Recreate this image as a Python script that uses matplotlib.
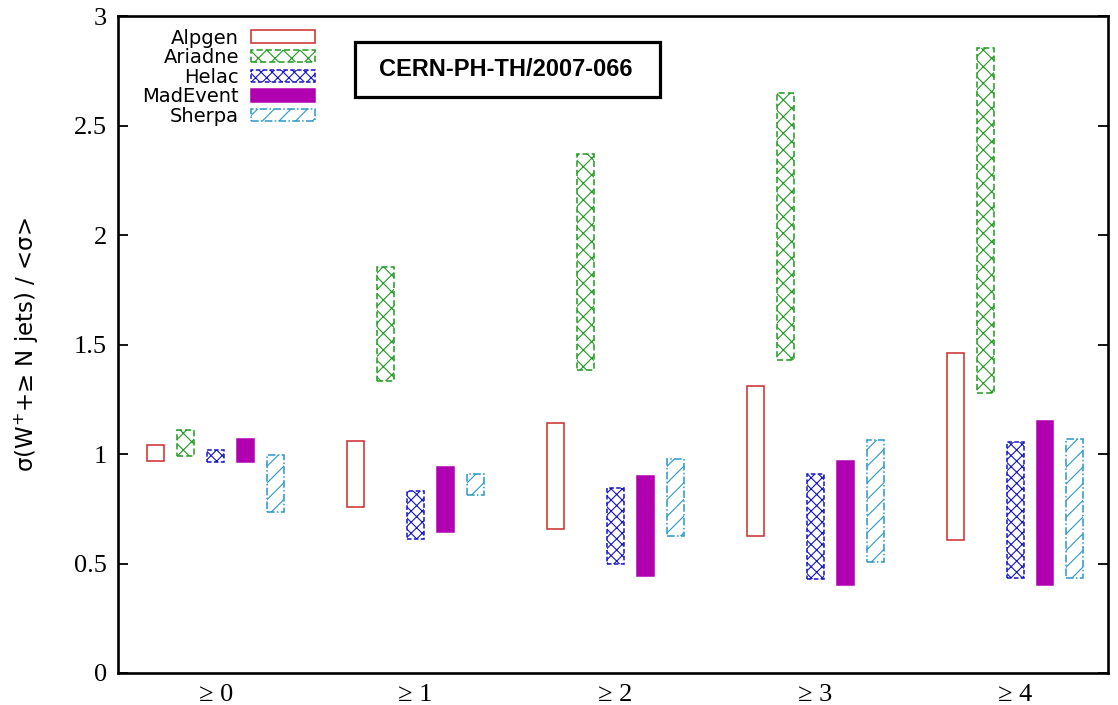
import numpy as np
import matplotlib
matplotlib.use("Agg")
import matplotlib.pyplot as plt
from matplotlib.patches import Rectangle

# ── data: min / max of sigma(W+ + >=N jets)/<sigma> per generator ─────────────
categories = ["≥ 0", "≥ 1", "≥ 2", "≥ 3", "≥ 4"]
generators = ["Alpgen", "Ariadne", "Helac", "MadEvent", "Sherpa"]

alpgen_lo = [0.970, 0.756, 0.658, 0.628, 0.609]
alpgen_hi = [1.043, 1.061, 1.142, 1.309, 1.462]
ariadne_lo = [0.992, 1.335, 1.385, 1.431, 1.279]
ariadne_hi = [1.108, 1.853, 2.369, 2.647, 2.856]
helac_lo = [0.963, 0.614, 0.497, 0.430, 0.434]
helac_hi = [1.020, 0.832, 0.847, 0.908, 1.054]
madevent_lo = [0.963, 0.643, 0.444, 0.402, 0.402]
madevent_hi = [1.069, 0.939, 0.898, 0.968, 1.151]
sherpa_lo = [0.735, 0.814, 0.626, 0.509, 0.434]
sherpa_hi = [0.997, 0.908, 0.977, 1.065, 1.069]

lows = [alpgen_lo, ariadne_lo, helac_lo, madevent_lo, sherpa_lo]
highs = [alpgen_hi, ariadne_hi, helac_hi, madevent_hi, sherpa_hi]

# ── styles (gnuplot-ish) ──────────────────────────────────────────────────────
styles = [
    dict(facecolor="none", edgecolor="#cc2a2a", hatch=None, linestyle="-"),
    dict(facecolor="none", edgecolor="#1f9a1f", hatch="xx", linestyle=(0, (4, 2))),
    dict(facecolor="none", edgecolor="#1414c8", hatch="xxx", linestyle=(0, (3, 1.5))),
    dict(facecolor="#b000b0", edgecolor="#b000b0", hatch=None, linestyle="-"),
    dict(facecolor="none", edgecolor="#2a97c8", hatch="//", linestyle=(0, (5, 1.5, 1, 1.5))),
]

plt.rcParams["hatch.linewidth"] = 0.8
plt.rcParams["mathtext.fontset"] = "custom"
plt.rcParams["mathtext.rm"] = "DejaVu Sans"

fig = plt.figure(figsize=(11.18, 7.05), dpi=100)
ax = fig.add_axes([0.1055, 0.0454, 0.8855, 0.9316])

x = np.arange(len(categories))
width = 0.085
step = 0.15
handles = []
for i, (name, lo, hi, st) in enumerate(zip(generators, lows, highs, styles)):
    lo = np.array(lo)
    hi = np.array(hi)
    b = ax.bar(x + (i - 2) * step, hi - lo, bottom=lo, width=width,
               linewidth=1.1, label=name, zorder=2, **st)
    handles.append(b)

ax.set_xlim(-0.49, 4.465)
ax.set_ylim(0, 3)
ax.set_yticks(np.arange(0, 3.01, 0.5))
ax.set_yticklabels(["0", "0.5", "1", "1.5", "2", "2.5", "3"],
                   family="Liberation Serif", fontsize=19)
ax.set_xticks(x)
ax.set_xticklabels(categories, family="Liberation Serif", fontsize=19)
ax.tick_params(axis="y", direction="in", length=7, width=1.3, right=True, pad=8)
ax.tick_params(axis="x", length=0, pad=8)
for s in ax.spines.values():
    s.set_linewidth(1.9)

ax.set_ylabel("σ(W$^{+}$+≥ N jets) / <σ>", family="DejaVu Sans", fontsize=16.5)
ax.yaxis.set_label_coords(-0.078, 0.5)

leg = ax.legend(handles=handles, loc="upper left", bbox_to_anchor=(0.011, 1.002),
                markerfirst=False, frameon=False,
                prop={"family": "DejaVu Sans", "size": 14},
                handlelength=3.3, handleheight=0.6, labelspacing=0.03,
                handletextpad=0.6, borderaxespad=0.3)

# preprint tag in a thick black box
ax.add_patch(Rectangle((0.2394, 0.8767), 0.3081, 0.0837, transform=ax.transAxes,
                       facecolor="white", edgecolor="black", linewidth=2.3, zorder=3))
ax.text(0.3914, 0.9185, "CERN-PH-TH/2007-066", transform=ax.transAxes,
        ha="center", va="center", fontsize=17, fontweight="bold",
        family="Liberation Sans", zorder=4)

fig.savefig("out.png", dpi=100)
